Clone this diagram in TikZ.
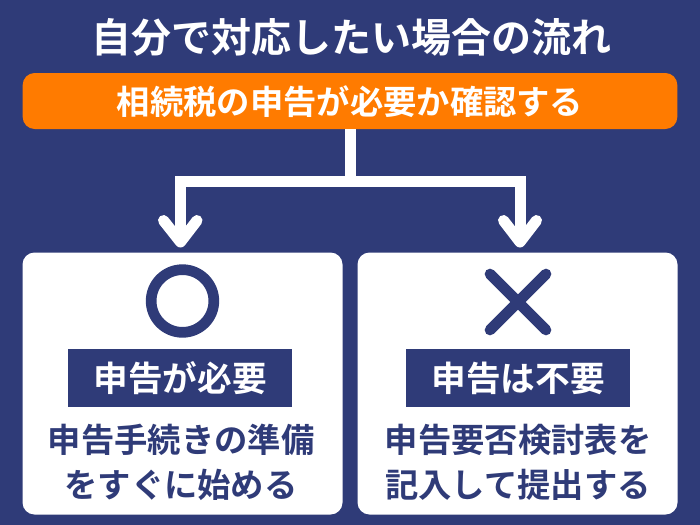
\documentclass[tikz,border=0pt]{standalone}
\usepackage{fontspec}
\setmainfont{Noto Sans CJK JP}[BoldFont={* Bold}]
\definecolor{navy}{HTML}{2F3B78}
\definecolor{orangeb}{HTML}{FF7B00}
\tikzset{
  card/.style={fill=white,rounded corners=9pt,inner sep=0pt,minimum width=240pt,minimum height=196.5pt},
  tag/.style={fill=navy,text=white,font=\fontsize{26}{26}\selectfont\bfseries,minimum height=43.5pt,inner sep=0pt},
  body/.style={text=navy,font=\fontsize{25}{25}\selectfont\bfseries,inner sep=0pt},
  flow/.style={draw=white,line width=8.25pt,miter limit=10},
  tip/.style={draw=white,line width=8.25pt,line cap=round,line join=round},
}
\begin{document}
\begin{tikzpicture}[x=0.75pt,y=-0.75pt]
\useasboundingbox (0,0) rectangle (700,525);
\fill[navy] (0,0) rectangle (700,525);
\node[text=white,font=\fontsize{30}{30}\selectfont\bfseries,inner sep=0pt] (title) at (351.5,37) {自分で対応したい場合の流れ};
\node[fill=orangeb,rounded corners=9pt,minimum width=491pt,minimum height=42pt,inner sep=0pt] (head) at (350,101) {};
\node[text=white,font=\fontsize{25}{25}\selectfont\bfseries,inner sep=0pt] (headtext) at (350,102) {相続税の申告が必要か確認する};
\node[card] (left) at (182.5,383.5) {};
\node[card] (right) at (517.5,383.5) {};
\coordinate (split) at (350,181);
\coordinate (la) at (180.5,181);
\coordinate (ra) at (520,181);
\coordinate (lt) at (180.5,242);
\coordinate (rt) at (520,242);
\draw[flow] (head.south) -- (split);
\draw[flow] (lt) -- (la) -- (ra) -- (rt);
\draw[tip] (163.5,220.5) -- (lt) -- (197,220.5);
\draw[tip] (503.5,220.5) -- (rt) -- (536.5,220.5);
\node[draw=navy,line width=8pt,circle,minimum size=47pt,inner sep=0pt] (maru) at (182.5,301) {};
\coordinate (b1) at (490,274); \coordinate (b2) at (546,330);
\coordinate (b3) at (546,274); \coordinate (b4) at (490,330);
\draw[navy,line width=8pt,line cap=round] (b1) -- (b2);
\draw[navy,line width=8pt,line cap=round] (b3) -- (b4);
\node[tag,minimum width=168pt] (t1) at (180,378) {申告が必要};
\node[tag,minimum width=168pt] (t2) at (518,378) {申告は不要};
\node[body] (l1) at (181,440) {申告手続きの準備};
\node[body] (l2) at (181,485) {をすぐに始める};
\node[body] (r1) at (518,440) {申告要否検討表を};
\node[body] (r2) at (518,485) {記入して提出する};
\end{tikzpicture}
\end{document}
